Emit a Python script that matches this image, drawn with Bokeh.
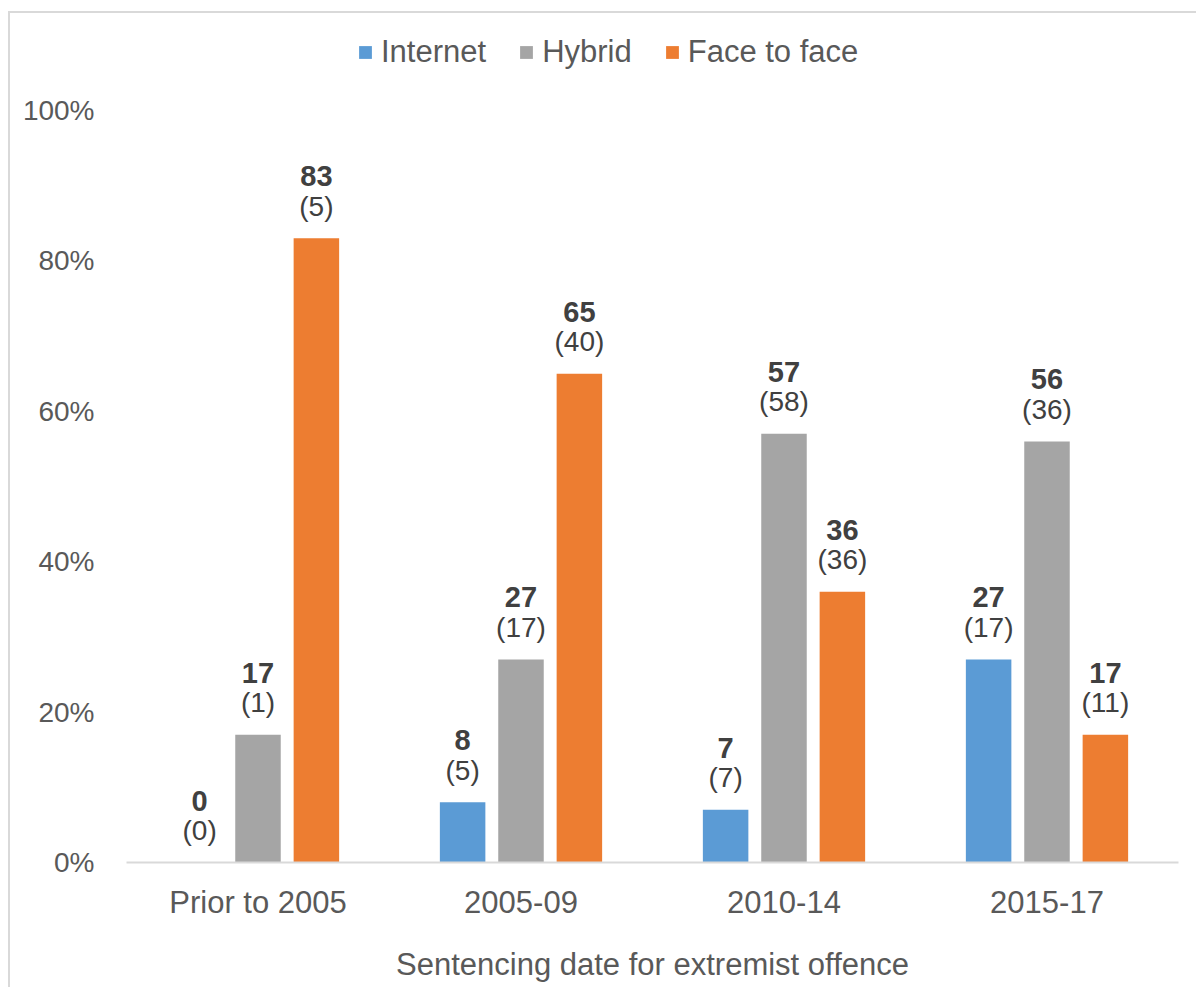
from bokeh.plotting import figure
from bokeh.models import ColumnDataSource, Legend, LegendItem, NumeralTickFormatter, FixedTicker
from bokeh.transform import dodge
from bokeh.core.properties import value
from bokeh.embed import file_html
from bokeh.resources import INLINE

categories = ["Prior to 2005", "2005-09", "2010-14", "2015-17"]
series = ["Internet", "Hybrid", "Face to face"]
internet_pct = [0, 8, 7, 27]
internet_n = [0, 5, 7, 17]
hybrid_pct = [17, 27, 57, 56]
hybrid_n = [1, 17, 58, 36]
face_pct = [83, 65, 36, 17]
face_n = [5, 40, 36, 11]
y_ticks = [0, 0.2, 0.4, 0.6, 0.8, 1.0]

colors = ["#5B9BD5", "#A5A5A5", "#ED7D31"]
offsets = [-0.222, 0.0, 0.222]
FONT = "Liberation Sans"

# frame extended upward (invisible) so that the legend can sit inside it
FRAME_H = 837
AXIS_H = 752
y_end = FRAME_H / AXIS_H

p = figure(x_range=categories, y_range=(0, y_end), frame_width=1052, frame_height=FRAME_H,
           output_backend="svg", toolbar_location=None,
           min_border_left=116, min_border_right=18, min_border_top=12, min_border_bottom=125,
           margin=(13, 0, 0, 10))
p.styles = {"outline": "2px solid #D9D9D9"}
p.outline_line_color = None
p.xgrid.grid_line_color = None
p.ygrid.grid_line_color = None
p.background_fill_color = "white"
p.border_fill_color = "white"

items = []
for name, pct, n, col, off in zip(series, [internet_pct, hybrid_pct, face_pct],
                                  [internet_n, hybrid_n, face_n], colors, offsets):
    src = ColumnDataSource(dict(cat=categories, top=[v / 100 for v in pct],
                                lab=[str(v) for v in pct], nlab=["(%d)" % v for v in n]))
    r = p.vbar(x=dodge("cat", off, range=p.x_range), top="top", width=0.173, source=src,
               fill_color=col, line_color=None)
    items.append(LegendItem(label=name, renderers=[r]))
    p.text(x=dodge("cat", off, range=p.x_range), y="top", text="lab", source=src,
           text_align="center", text_baseline="middle", y_offset=-62,
           text_font=value(FONT), text_font_size="29px", text_font_style="bold",
           text_color="#404040")
    p.text(x=dodge("cat", off, range=p.x_range), y="top", text="nlab", source=src,
           text_align="center", text_baseline="middle", y_offset=-32,
           text_font=value(FONT), text_font_size="28px",
           text_color="#404040")

legend = Legend(items=items, orientation="horizontal", location=(231, 792),
                glyph_width=16, glyph_height=16, label_standoff=8, spacing=32,
                padding=0, margin=0, border_line_color=None, background_fill_alpha=0,
                label_text_font=FONT, label_text_font_size="31px", label_text_color="#595959")
p.add_layout(legend, "center")

p.yaxis.ticker = FixedTicker(ticks=y_ticks)
p.yaxis.formatter = NumeralTickFormatter(format="0%")
p.yaxis.axis_line_color = None
p.yaxis.major_tick_line_color = None
p.yaxis.minor_tick_line_color = None
p.yaxis.major_label_standoff = 26
p.yaxis.major_label_text_font = FONT
p.yaxis.major_label_text_font_size = "28px"
p.yaxis.major_label_text_color = "#595959"

p.xaxis.axis_line_color = "#D9D9D9"
p.xaxis.axis_line_width = 2
p.xaxis.major_tick_line_color = None
p.xaxis.minor_tick_line_color = None
p.xaxis.major_label_standoff = 16
p.xaxis.major_label_text_font = FONT
p.xaxis.major_label_text_font_size = "31px"
p.xaxis.major_label_text_color = "#595959"
p.xaxis.axis_label = "Sentencing date for extremist offence"
p.xaxis.axis_label_standoff = 24
p.xaxis.axis_label_text_font = FONT
p.xaxis.axis_label_text_font_size = "31px"
p.xaxis.axis_label_text_font_style = "normal"
p.xaxis.axis_label_text_color = "#595959"

open("out.html", "w").write(file_html(p, INLINE))
